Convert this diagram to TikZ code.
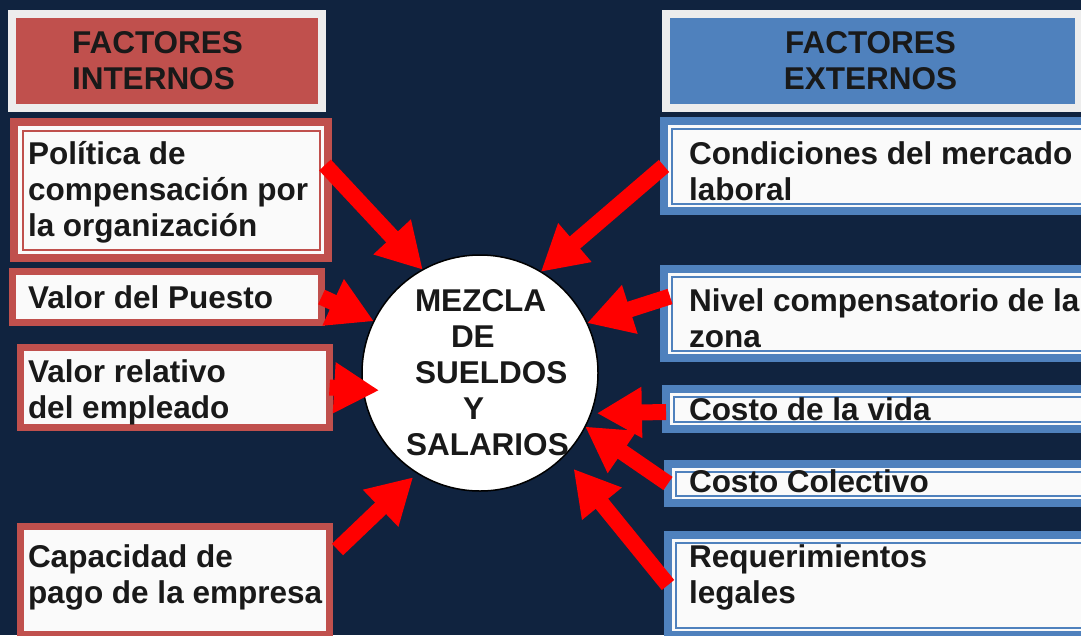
\documentclass[tikz,border=0pt]{standalone}
\usepackage{fontspec}
\setmainfont{Liberation Sans}
\usepackage{xcolor}
\usetikzlibrary{positioning,calc,arrows.meta}

\definecolor{fondo}{HTML}{10233F}
\definecolor{rojocaja}{HTML}{C0504D}
\definecolor{azulcaja}{HTML}{4F81BD}
\definecolor{grisborde}{HTML}{EDEDED}
\definecolor{blanco}{HTML}{FAFAFA}
\definecolor{rojovivo}{HTML}{FF0000}

\begin{document}
\begin{tikzpicture}[x=1pt, y=-1pt,
    every node/.style={inner sep=0pt, outer sep=0pt},
    txt/.style={align=left, text=black!90, font=\bfseries\fontsize{31.5}{36}\selectfont},
    hdrint/.style={rectangle, fill=rojocaja, draw=grisborde, line width=8pt, anchor=north west},
    hdrext/.style={rectangle, fill=azulcaja, draw=grisborde, line width=8pt, anchor=north west},
    cajaint/.style={rectangle, fill=blanco, draw=rojocaja, line width=7pt, anchor=north west},
    cajaext/.style={rectangle, fill=blanco, draw=azulcaja, line width=8pt, anchor=north west},
    linea/.style={line width=2pt},
    flecharoja/.style={draw=rojovivo, line width=16pt, -{Triangle[width=48pt,length=45pt]}}]

    \useasboundingbox (0,0) rectangle (1081,635);
    \fill[fondo] (0,0) rectangle (1081,635);

    % encabezados
    \node[hdrint, minimum width=310pt, minimum height=94pt] (hint) at (12,14) {};
    \node[hdrext, minimum width=413pt, minimum height=94pt] (hext) at (666,14) {};
    \node[txt, right=60pt of hint.west] (hint-t) {FACTORES\\INTERNOS};
    \node[txt, align=center] (hext-t) at ([xshift=-2pt]hext.center) {FACTORES\\EXTERNOS};

    % factores internos
    \node[cajaint, line width=8pt, minimum width=314pt, minimum height=136pt] (pol) at (14,122) {};
    \node[cajaint, minimum width=309pt, minimum height=51pt] (puesto) at (12.5,271.5) {};
    \node[cajaint, minimum width=309pt, minimum height=80pt] (rel) at (20.5,347.5) {};
    \node[cajaint, minimum width=309pt, minimum height=108pt] (cap) at (20.5,526.5) {};
    \draw[linea, rojocaja] ($(pol.north west)+(8.5,8.5)$) rectangle ($(pol.south east)+(-8.5,-8.5)$);

    \node[txt, right=14pt of pol.west, yshift=-2pt] (pol-t) {Política de\\compensación por\\la organización};
    \node[txt, right=15.5pt of puesto.west] (puesto-t) {Valor del Puesto};
    \node[txt, right=7.5pt of rel.west, yshift=-5pt] (rel-t) {Valor relativo\\del empleado};
    \node[txt, right=7.5pt of cap.west, yshift=3pt] (cap-t) {Capacidad de\\pago de la empresa};

    % factores externos
    \node[cajaext, minimum width=440pt, minimum height=90pt] (cond) at (664,121) {};
    \node[cajaext, minimum width=440pt, minimum height=89pt] (nivel) at (664,269) {};
    \node[cajaext, minimum width=440pt, minimum height=40pt] (vida) at (666,389) {};
    \node[cajaext, minimum width=440pt, minimum height=39pt] (colect) at (668,464) {};
    \node[cajaext, minimum width=440pt, minimum height=100pt] (req) at (668,535) {};
    \foreach \c in {cond,nivel,vida,colect,req}
        \draw[linea, azulcaja] ($(\c.north west)+(7.5,7.5)$) rectangle ($(\c.south east)+(-7.5,-7.5)$);

    \node[txt, right=25pt of cond.west, yshift=-5pt] (cond-t) {Condiciones del mercado\\laboral};
    \node[txt, right=25pt of nivel.west, yshift=-4.5pt] (nivel-t) {Nivel compensatorio de la\\zona};
    \node[txt, right=23pt of vida.west] (vida-t) {Costo de la vida};
    \node[txt, right=21pt of colect.west, yshift=2pt] (colect-t) {Costo Colectivo};
    \node[txt, right=21pt of req.west, yshift=7.5pt] (req-t) {Requerimientos\\legales};

    % centro
    \node[circle, draw=black, line width=1.5pt, fill=white, minimum size=236pt] (mix) at (480,373) {};
    \node[txt, right=44pt of mix.west] (mix-t) {\hspace*{9pt}MEZCLA\\\hspace*{45pt}DE\\\hspace*{9pt}SUELDOS\\\hspace*{57pt}Y\\SALARIOS};

    % flechas
    \draw[flecharoja] ($(pol.east)+(-3,-25)$) -- (mix.119);
    \draw[flecharoja] (puesto.east) -- (mix.154);
    \draw[flecharoja, shorten >=-16pt] (rel.east) -- (mix.188);
    \draw[flecharoja, shorten >=6pt] ($(cap.east)+(8,-31)$) -- (mix.238);
    \draw[flecharoja] (cond.west) -- (mix.59);
    \draw[flecharoja] ($(nivel.west)+(6,-17)$) -- (mix.25);
    \draw[flecharoja, shorten >=6pt] ($(vida.west)+(0,3)$) -- (mix.-20);
    \draw[flecharoja] (colect.west) -- (mix.-27);
    \draw[flecharoja, shorten >=16pt] (req.west) -- (mix.-45);
\end{tikzpicture}
\end{document}
